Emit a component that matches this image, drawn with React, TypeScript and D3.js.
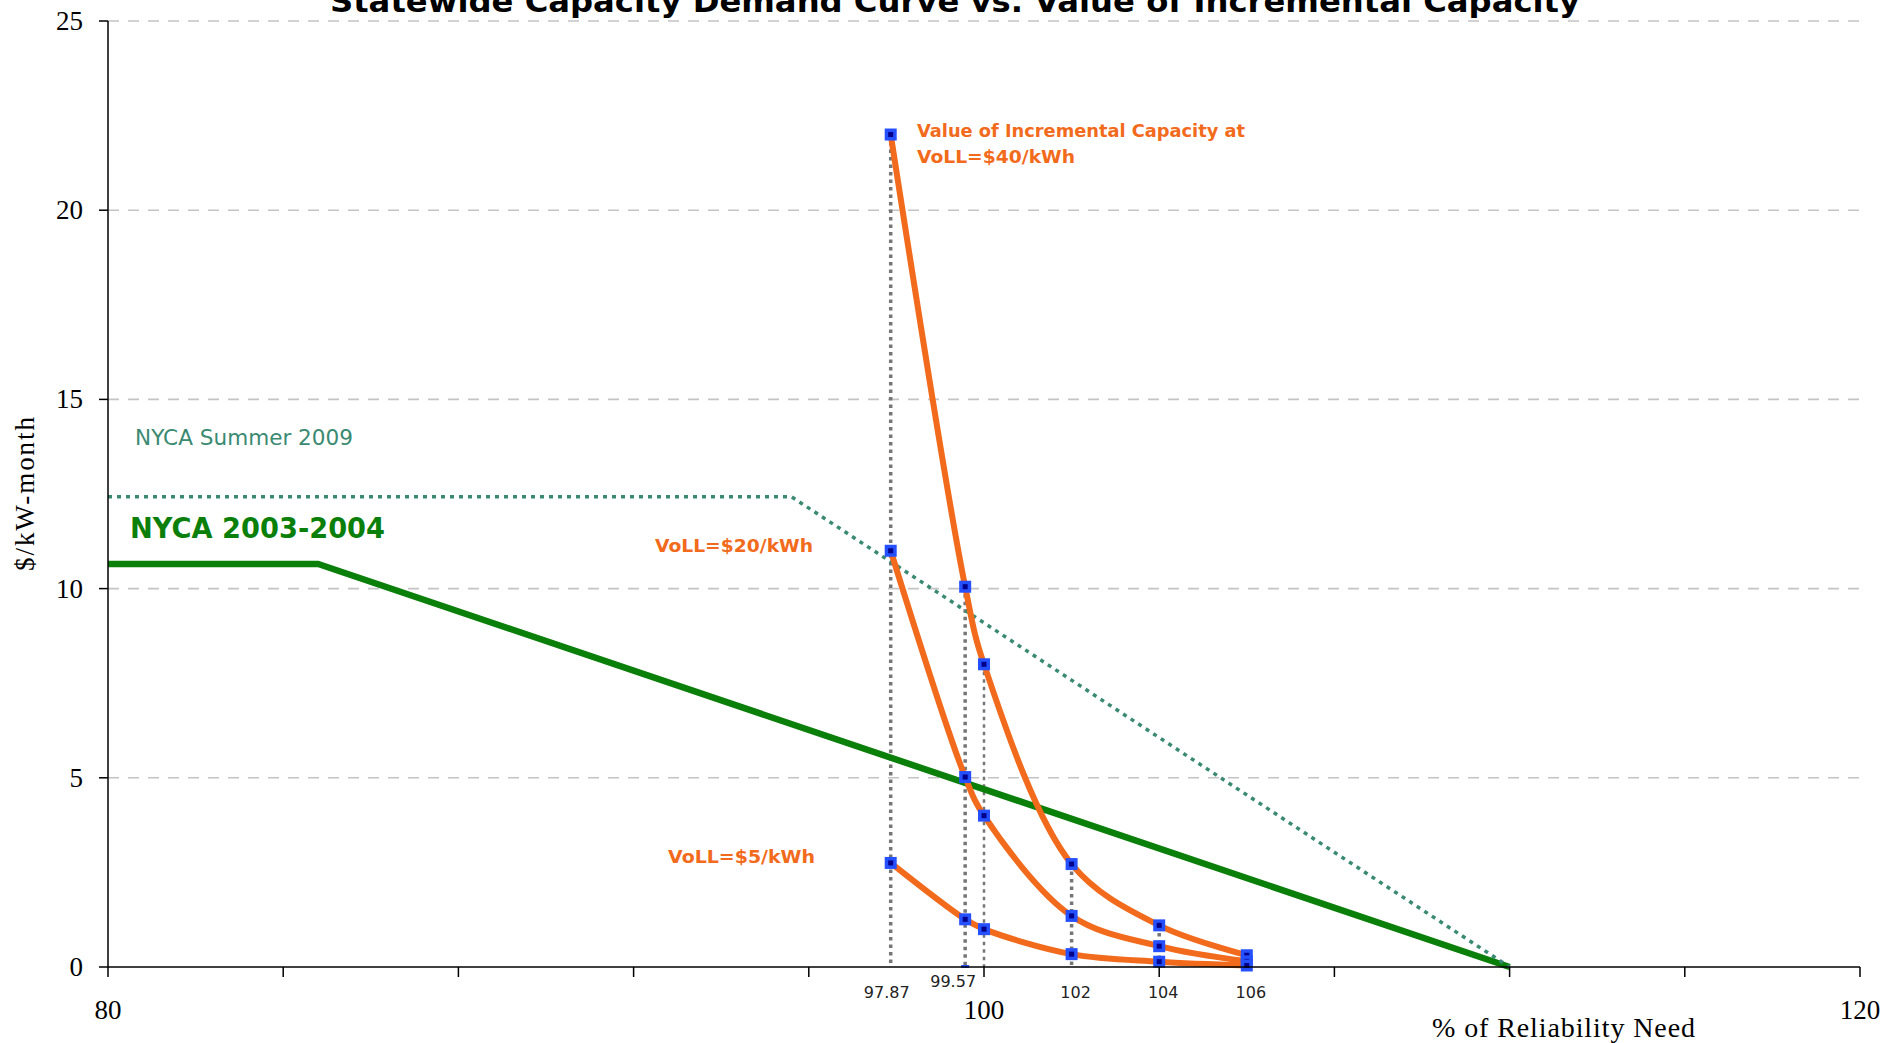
import React from "react";
import * as d3 from "d3";

const W = 1882;
const H = 1043;

// Reliability need (%) at which incremental capacity is valued
const pctNeed = [97.87, 99.57, 100, 102, 104, 106];
// Value of incremental capacity ($/kW-month) for each value of lost load
const voll40 = [22.0, 10.05, 8.0, 2.72, 1.1, 0.31];
const voll20 = [11.0, 5.02, 4.0, 1.35, 0.55, 0.15];
const voll5 = [2.75, 1.26, 1.0, 0.34, 0.14, 0.04];

// Demand curves
const nyca0304X = [80, 84.8, 112];
const nyca0304Y = [10.65, 10.65, 0];
const nyca2009X = [80, 95.6, 112];
const nyca2009Y = [12.43, 12.43, 0];

const yTicks = [0, 5, 10, 15, 20, 25];
const xTicks = d3.range(80, 121, 4);
const xTickLabels = [80, 100, 120];
const needLabels = ["97.87", "99.57", "102", "104", "106"];
const needLabelX = [97.87, 99.57, 102, 104, 106];

const TITLE = "Statewide Capacity Demand Curve vs. Value of Incremental Capacity";

const ORANGE = "#f26a1b";
const GREEN = "#0a7f0a";
const TEAL = "#3a8a72";
const SANS = "'DejaVu Sans', Verdana, sans-serif";
const SERIF = "'Liberation Serif', 'Times New Roman', serif";

export default function App() {
  const x = d3.scaleLinear().domain([80, 120]).range([108, 1860]);
  const y = d3.scaleLinear().domain([0, 25]).range([967, 21]);

  const curve = d3
    .line<[number, number]>()
    .x((d) => x(d[0]))
    .y((d) => y(d[1]))
    .curve(d3.curveCatmullRom.alpha(0.5));
  const straight = d3
    .line<[number, number]>()
    .x((d) => x(d[0]))
    .y((d) => y(d[1]));

  const zip = (xs: number[], ys: number[]) => xs.map((v, i) => [v, ys[i]] as [number, number]);
  const series = [voll40, voll20, voll5];

  return (
    <svg width={W} height={H} style={{ display: "block", position: "absolute", left: 0, top: 0, background: "#fff" }}>
      {/* horizontal gridlines */}
      {yTicks.filter((t) => t > 0).map((t) => (
        <line key={t} x1={x(80)} x2={x(120)} y1={y(t)} y2={y(t)} stroke="#c4c4c4" strokeWidth={1.6} strokeDasharray="11,9" />
      ))}

      {/* title */}
      <text x={955} y={12} textAnchor="middle" fontFamily={SANS} fontWeight="bold" fontSize={30} fill="#000"
        textLength={1250} lengthAdjust="spacingAndGlyphs">{TITLE}</text>

      {/* drop lines from each point to the axis */}
      {pctNeed.map((p, i) => (
        <line key={p} x1={x(p)} x2={x(p)} y1={y(voll40[i])} y2={y(0)} stroke="#767676"
          strokeWidth={i === 2 ? 2.5 : 3.5} strokeDasharray="3.5,4" />
      ))}

      {/* demand curves */}
      <path d={straight(zip(nyca0304X, nyca0304Y)) || ""} fill="none" stroke={GREEN} strokeWidth={6.5} strokeLinejoin="round" />
      <path d={straight(zip(nyca2009X, nyca2009Y)) || ""} fill="none" stroke={TEAL} strokeWidth={3.5} strokeDasharray="4,5" />

      {/* value of incremental capacity curves */}
      {series.map((s, k) => (
        <path key={k} d={curve(zip(pctNeed, s)) || ""} fill="none" stroke={ORANGE} strokeWidth={6} strokeLinejoin="round" strokeLinecap="round" />
      ))}
      {series.map((s, k) =>
        s.map((v, i) => (
          <g key={`${k}-${i}`} transform={`translate(${x(pctNeed[i])},${y(v)})`}>
            <rect x={-6} y={-6} width={12} height={12} fill="#2450ff" />
            <rect x={-2.5} y={-2.5} width={5} height={5} fill="#00008a" />
          </g>
        ))
      )}
      <rect x={x(99.57) - 4} y={y(0) - 2} width={8} height={3} fill="#2450ff" />

      {/* axes */}
      <line x1={x(80)} x2={x(80)} y1={y(25)} y2={y(0)} stroke="#000" strokeWidth={1.5} />
      <line x1={x(80)} x2={x(120)} y1={y(0)} y2={y(0)} stroke="#000" strokeWidth={1.5} />
      {yTicks.map((t) => (
        <g key={t}>
          <line x1={x(80) - 9} x2={x(80)} y1={y(t)} y2={y(t)} stroke="#000" strokeWidth={1.5} />
          <text x={83} y={y(t) + 9} textAnchor="end" fontFamily={SERIF} fontSize={27} fill="#000">{t}</text>
        </g>
      ))}
      {xTicks.map((t) => (
        <line key={t} x1={x(t)} x2={x(t)} y1={y(0)} y2={y(0) + 10} stroke="#000" strokeWidth={1.5} />
      ))}
      {xTickLabels.map((t) => (
        <text key={t} x={x(t)} y={1019} textAnchor="middle" fontFamily={SERIF} fontSize={27} fill="#000">{t}</text>
      ))}
      {needLabels.map((l, i) => (
        <text key={l} x={x(needLabelX[i]) + (i === 1 ? -12 : i === 0 ? -4 : 4)} y={i === 1 ? 987 : 998} textAnchor="middle"
          fontFamily={SANS} fontSize={16} fill="#222">{l}</text>
      ))}

      {/* axis titles */}
      <text x={1432} y={1037} fontFamily={SERIF} fontSize={28} fill="#000" textLength={263} lengthAdjust="spacing">% of Reliability Need</text>
      <text transform="translate(34,494) rotate(-90)" textAnchor="middle" fontFamily={SERIF} fontSize={27} fill="#000"
        textLength={154} lengthAdjust="spacing">$/kW-month</text>

      {/* series labels */}
      <text x={135} y={445} fontFamily={SANS} fontSize={21} fill={TEAL} textLength={218} lengthAdjust="spacingAndGlyphs">NYCA Summer 2009</text>
      <text x={130} y={538} fontFamily={SANS} fontWeight="bold" fontSize={28} fill={GREEN} textLength={255} lengthAdjust="spacingAndGlyphs">NYCA 2003-2004</text>
      <text x={917} y={137} fontFamily={SANS} fontWeight="bold" fontSize={17} fill={ORANGE} textLength={328} lengthAdjust="spacingAndGlyphs">Value of Incremental Capacity at</text>
      <text x={917} y={163} fontFamily={SANS} fontWeight="bold" fontSize={17} fill={ORANGE} textLength={158} lengthAdjust="spacingAndGlyphs">VoLL=$40/kWh</text>
      <text x={655} y={552} fontFamily={SANS} fontWeight="bold" fontSize={17} fill={ORANGE} textLength={158} lengthAdjust="spacingAndGlyphs">VoLL=$20/kWh</text>
      <text x={668} y={863} fontFamily={SANS} fontWeight="bold" fontSize={17} fill={ORANGE} textLength={147} lengthAdjust="spacingAndGlyphs">VoLL=$5/kWh</text>
    </svg>
  );
}
